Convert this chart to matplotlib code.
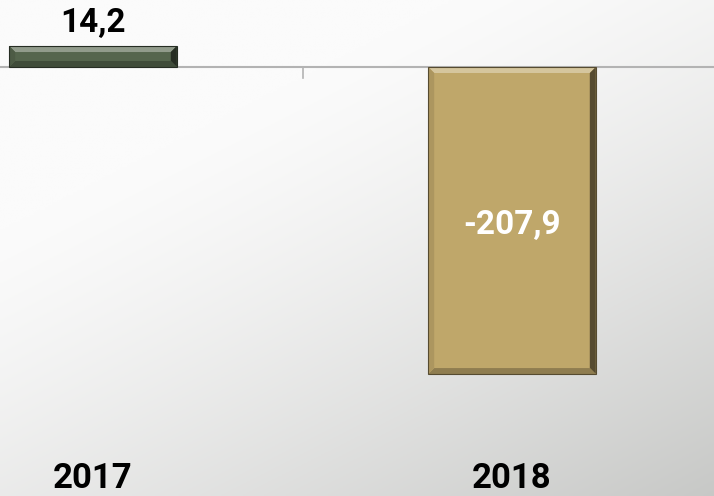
import matplotlib.pyplot as plt
import numpy as np
from matplotlib.patches import Polygon
import matplotlib.colors as mcolors

plt.rc('font', family='Roboto', weight='bold')

years = ['2017', '2018']
values = [14.2, -207.9]
labels = ['14,2', '-207,9']
colors = ['#55654d', '#bfa76a']

w = 7.14; h = 4.96
fig = plt.figure(figsize=(w, h), dpi=100)

# background gradient, light top-left to grey bottom-right
bg = fig.add_axes([0, 0, 1, 1], zorder=0)
gx, gy = np.meshgrid(np.linspace(0, 1, 200), np.linspace(0, 1, 200))
t = np.clip(0.55 * gx + 0.75 * gy - 0.35, 0, 1) ** 1.3
c0 = np.array(mcolors.to_rgb('#fbfbfb'))
c1 = np.array(mcolors.to_rgb('#c4c5c3'))
img = c0 + (c1 - c0) * t[..., None]
bg.imshow(img, aspect='auto', extent=[0, 1, 0, 1], origin='upper')
bg.axis('off')

# axes wider than the figure, the chart is cropped on both sides
px = 419.0 / 714
ax = fig.add_axes([(93 - 0.5 * 419) / 714, 0, 2 * px, 1], zorder=1)
ax.patch.set_alpha(0)
x = np.arange(len(years))
bars = ax.bar(x, values, width=0.4, color=colors, zorder=2)
ax.set_xlim(-0.5, 1.5)
ax.set_ylim(-(496 - 67) / 1.477, 67 / 1.477)
for s in ax.spines.values():
    s.set_visible(False)
ax.set_xticks([])
ax.set_yticks([])
ax.axhline(0, color='#b3b3b3', lw=1.5, zorder=1)
ax.plot([0.5, 0.5], [0, -7.5], color='#b3b3b3', lw=1.2, zorder=1)

# bevel on each bar
fig.canvas.draw()
inv = ax.transData.inverted()
b = 6
for bar, col in zip(bars, colors):
    x0, y0 = ax.transData.transform((bar.get_x(), min(0, bar.get_height())))
    x1, y1 = ax.transData.transform((bar.get_x() + bar.get_width(), max(0, bar.get_height())))
    base = np.array(mcolors.to_rgb(col))
    light = np.clip(base + (1 - base) * 0.35, 0, 1)
    dark = base * 0.45
    mid = base * 0.75
    faces = [
        ([(x0, y1), (x1, y1), (x1 - b, y1 - b), (x0 + b, y1 - b)], light),
        ([(x1, y1), (x1, y0), (x1 - b, y0 + b), (x1 - b, y1 - b)], dark),
        ([(x0, y0), (x1, y0), (x1 - b, y0 + b), (x0 + b, y0 + b)], mid),
        ([(x0, y0), (x0, y1), (x0 + b, y1 - b), (x0 + b, y0 + b)], base * 0.9),
    ]
    for pts, fc in faces:
        ax.add_patch(Polygon(inv.transform(pts), closed=True, fc=fc, ec='none', zorder=3))
    ax.add_patch(Polygon(inv.transform([(x0, y0), (x1, y0), (x1, y1), (x0, y1)]), closed=True,
                         fc='none', ec=dark, lw=0.8, zorder=4))

# value labels
ax.text(x[0], 23.5, labels[0], ha='center', va='baseline', fontsize=24,
        color='black', fontweight='bold')
ax.text(x[1], values[1] / 2 - 3, labels[1], ha='center', va='center', fontsize=24,
        color='white', fontweight='bold')

# category labels at the bottom
for xi, yr in zip(x, years):
    ax.text(xi, 0.016, yr, transform=ax.get_xaxis_transform(), ha='center', va='baseline',
            fontsize=25, color='black', fontweight='bold')

plt.savefig('out.png', dpi=100)
